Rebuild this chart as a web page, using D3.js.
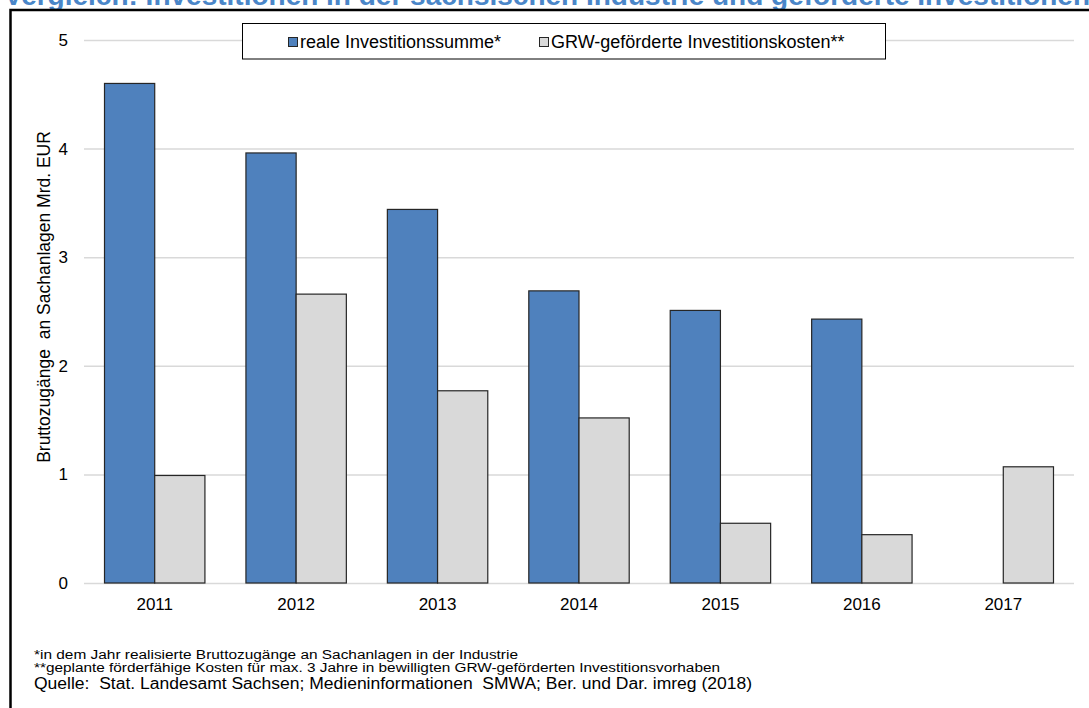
<!DOCTYPE html>
<html>
<head>
<meta charset="utf-8">
<script src="https://cdn.jsdelivr.net/npm/d3@7/dist/d3.min.js"></script>
<style>
  html, body { margin: 0; padding: 0; background: #fff; }
  svg { display: block; }
  text { font-family: "Liberation Sans", Arial, sans-serif; fill: #000; white-space: pre; }
</style>
</head>
<body>
<svg id="chart" width="1089" height="708"></svg>
<script>
// Jahre und Werte (Mrd. EUR)
const years = ["2011", "2012", "2013", "2014", "2015", "2016", "2017"];
const realeInvestitionssumme = [4.60, 3.96, 3.44, 2.69, 2.51, 2.43, null];
const grwKosten = [0.99, 2.66, 1.77, 1.52, 0.55, 0.445, 1.07];
const yTicks = [0, 1, 2, 3, 4, 5];
const seriesNames = ["reale Investitionssumme*", "GRW-geförderte Investitionskosten**"];
const seriesColors = ["#4f81bd", "#d9d9d9"];

const titleText = "Vergleich: Investitionen in der sächsischen Industrie und geförderte Investitionen";
const yTitle = "Bruttozugänge  an Sachanlagen Mrd. EUR";
const footnotes = [
  "*in dem Jahr realisierte Bruttozugänge an Sachanlagen in der Industrie",
  "**geplante förderfähige Kosten für max. 3 Jahre in bewilligten GRW-geförderten Investitionsvorhaben",
  "Quelle:  Stat. Landesamt Sachsen; Medieninformationen  SMWA; Ber. und Dar. imreg (2018)"
];

const svg = d3.select("#chart");

// Titel (oben angeschnitten)
svg.append("text")
  .attr("x", 4).attr("y", 5)
  .attr("font-size", 28).attr("font-weight", "bold")
  .style("fill", "#4a86c8")
  .text(titleText);

// Rahmen
svg.append("rect")
  .attr("x", 10.5).attr("y", 10)
  .attr("width", 1200).attr("height", 800)
  .attr("fill", "none").attr("stroke", "#000").attr("stroke-width", 2.5);

const plot = { left: 84, right: 1074, top: 40, bottom: 583 };

const x = d3.scaleBand().domain(years).range([plot.left, plot.right]).padding(0);
const groupW = x.bandwidth() * 0.71;
const x1 = d3.scaleBand().domain([0, 1]).range([0, groupW]).padding(0);
const y = d3.scaleLinear().domain([0, 5]).range([plot.bottom, plot.top]);

// Y-Achse mit Gitterlinien
const yAxis = svg.append("g")
  .attr("transform", `translate(${plot.left},0)`)
  .call(d3.axisLeft(y).tickValues(yTicks).tickFormat(d3.format("d"))
    .tickSize(-(plot.right - plot.left)).tickPadding(16));
yAxis.select(".domain").remove();
yAxis.selectAll(".tick line").attr("stroke", "#d9d9d9").attr("stroke-width", 1.5);
yAxis.selectAll(".tick text").attr("font-size", 17).style("font-family", '"Liberation Sans", Arial, sans-serif');

// X-Achse
const xAxis = svg.append("g")
  .attr("transform", `translate(0,${plot.bottom})`)
  .call(d3.axisBottom(x).tickSize(0).tickPadding(15));
xAxis.select(".domain").remove();
xAxis.selectAll(".tick text").attr("font-size", 17).style("font-family", '"Liberation Sans", Arial, sans-serif');

// Balken
const seriesData = [realeInvestitionssumme, grwKosten];
seriesData.forEach((vals, si) => {
  svg.append("g").selectAll("rect")
    .data(years.map((yr, i) => ({ yr, v: vals[i] })).filter(d => d.v != null))
    .join("rect")
    .attr("x", d => x(d.yr) + (x.bandwidth() - groupW) / 2 + x1(si))
    .attr("y", d => y(d.v))
    .attr("width", x1.bandwidth())
    .attr("height", d => y(0) - y(d.v))
    .attr("fill", seriesColors[si])
    .attr("stroke", "#262626")
    .attr("stroke-width", 1.2);
});

// Y-Achsentitel
svg.append("text")
  .attr("transform", "translate(50,297) rotate(-90)")
  .attr("text-anchor", "middle")
  .attr("font-size", 17.5)
  .text(yTitle);

// Legende
const leg = svg.append("g");
leg.append("rect")
  .attr("x", 242.5).attr("y", 23.5).attr("width", 643).attr("height", 35.5)
  .attr("fill", "#fff").attr("stroke", "#000").attr("stroke-width", 1);
const legX = [288, 539];
seriesNames.forEach((name, i) => {
  leg.append("rect")
    .attr("x", legX[i] + 0.5).attr("y", 37.5).attr("width", 9).attr("height", 9)
    .attr("fill", seriesColors[i]).attr("stroke", "#262626").attr("stroke-width", 1);
  leg.append("text")
    .attr("x", legX[i] + 12).attr("y", 47.5)
    .attr("font-size", 18)
    .text(name);
});

// Fußnoten
const fn = [
  { y: 659, size: 12.5, len: 484, narrow: true },
  { y: 672, size: 12.5, len: 686, narrow: true },
  { y: 689, size: 16, len: 718, narrow: false }
];
footnotes.forEach((t, i) => {
  svg.append("text")
    .attr("x", 34).attr("y", fn[i].y)
    .attr("font-size", fn[i].size)
    .attr("textLength", fn[i].len)
    .attr("lengthAdjust", "spacingAndGlyphs")
    .style("font-family", fn[i].narrow ? '"Liberation Sans Narrow", "Liberation Sans", Arial, sans-serif' : '"Liberation Sans", Arial, sans-serif')
    .text(t);
});
</script>
</body>
</html>
